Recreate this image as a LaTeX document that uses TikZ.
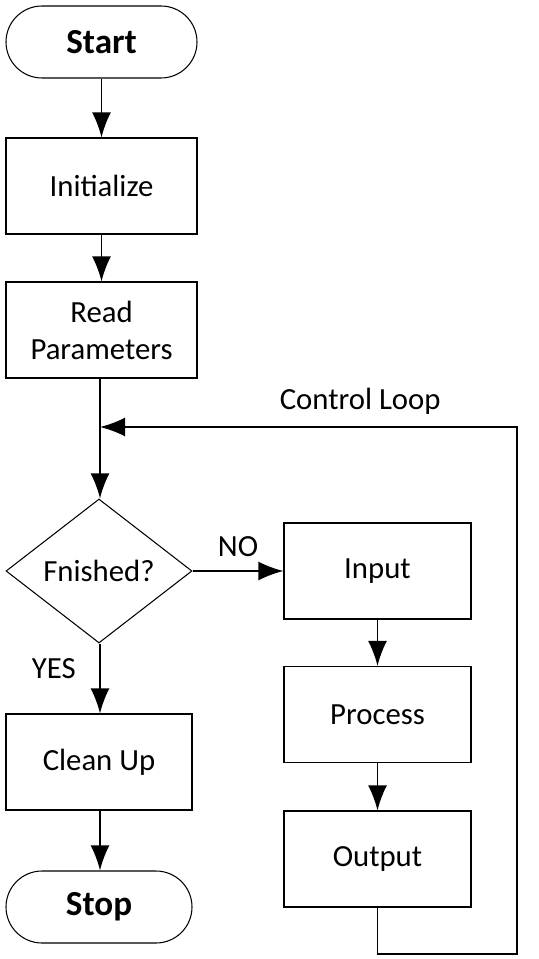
\documentclass[tikz,border=0pt]{standalone}
\usepackage{fontspec}
\setmainfont{Carlito}
\usetikzlibrary{arrows.meta,shapes.geometric}

\tikzset{
    terminal/.style={draw, line width=0.6pt, rounded corners=0.72cm, minimum width=3.82cm, minimum height=1.44cm, font=\fontsize{20}{24}\selectfont\bfseries},
    block/.style={draw, line width=0.6pt, minimum width=3.82cm, minimum height=1.92cm, align=center},
    decision/.style={draw, diamond, line width=0.6pt, minimum width=3.72cm, minimum height=2.88cm, inner sep=0pt, aspect=1.3},
    flow/.style={->, line width=1.1pt},
}

\begin{document}
\begin{tikzpicture}[>={Latex[length=5mm,width=3.8mm]}, font=\fontsize{17.5}{21}\selectfont]
                \useasboundingbox (0,0) rectangle (10.78,-19.18);

                \node[terminal] (start) at (2.03,-0.84) {Start};
                \node[block] (init) at (2.03,-3.72) {Initialize};
                \node[block] (read) at (2.03,-6.6) {Read\\Parameters};
                \node[decision] (fin) at (1.98,-11.42) {Fnished?};
                \node[block, minimum width=3.72cm] (clean) at (1.98,-15.24) {Clean Up};
                \node[terminal, minimum width=3.72cm] (stop) at (1.98,-18.14) {Stop};

                \node[block, minimum width=3.74cm] (input) at (7.55,-11.42) {Input};
                \node[block, minimum width=3.74cm] (process) at (7.55,-14.29) {Process};
                \node[block, minimum width=3.74cm] (output) at (7.55,-17.18) {Output};

                \coordinate (loopbl) at (7.55,-19.08);
                \coordinate (loopbr) at (10.34,-19.08);
                \coordinate (looptr) at (10.34,-8.54);
                \coordinate (join) at (2.0,-8.54);

                \draw[flow] (start) to (init);
                \draw[flow] (init) to (read);
                \draw[flow] (read.south -| join) to (fin.north -| join);
                \draw[flow] (fin) to node[above=0.15cm] {NO} (input);
                \draw[flow] (fin.south -| join) to node[pos=0.36, left=0.35cm] {YES} (clean.north -| join);
                \draw[flow] (clean.south -| join) to (stop.north -| join);
                \draw[flow] (input) to (process);
                \draw[flow] (process) to (output);
                \draw[flow] (output.south) -- (loopbl) -- (loopbr) -- (looptr)
                    -- node[pos=0.376, above=0.12cm] {Control Loop} (join);
            \end{tikzpicture}
\end{document}
